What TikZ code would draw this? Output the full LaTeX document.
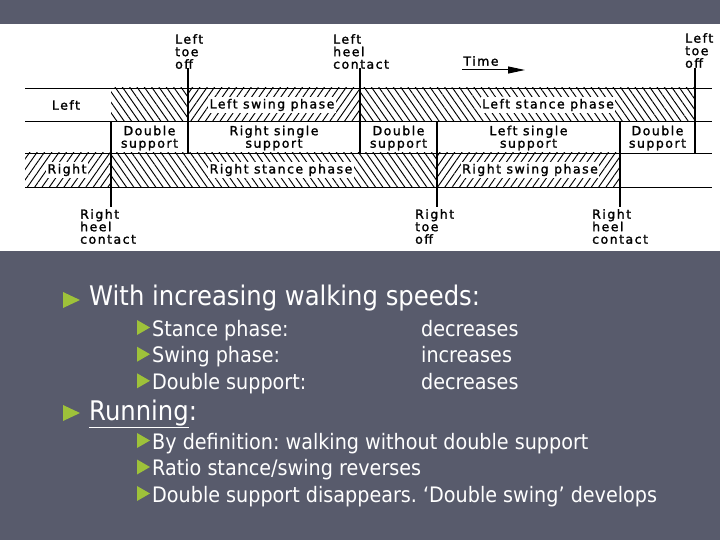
\documentclass[tikz,border=0pt]{standalone}
\usepackage{fontspec}
\setmainfont{DejaVu Sans}
\newfontfamily\chartfont[LetterSpace=12,FakeBold=1.5]{DejaVu Sans}
\newfontfamily\slidefont[FakeStretch=0.9]{DejaVu Sans}
\frenchspacing
\usetikzlibrary{arrows.meta}
\usetikzlibrary{patterns.meta}
\definecolor{slate}{RGB}{88,91,108}
\definecolor{bulgreen}{RGB}{158,194,58}
\tikzset{hatchdown/.style={pattern={Lines[angle=-55,distance=6pt,line width=.95pt]}}}
\tikzset{hatchup/.style={pattern={Lines[angle=55,distance=6pt,line width=.95pt]}}}
\tikzset{phase/.style={font=\chartfont\fontsize{12.5}{12.5}\selectfont, fill=white, inner sep=1.5pt}}
\tikzset{support/.style={font=\chartfont\fontsize{12.5}{12.5}\selectfont, align=center, inner sep=0pt}}
\tikzset{event/.style={font=\chartfont\fontsize{12.5}{12.5}\selectfont, align=left, inner sep=0pt, anchor=north west}}
\tikzset{head/.style={font=\slidefont\fontsize{27}{33}\selectfont, text=white, anchor=base west, inner sep=0pt}}
\tikzset{item/.style={font=\slidefont\fontsize{21.3}{25}\selectfont, text=white, anchor=base west, inner sep=0pt}}

\begin{document}
\begin{tikzpicture}[x=1pt,y=-1pt]
% slide and chart panel
\fill[slate] (0,0) rectangle (720,540);
\fill[white] (0,24) rectangle (720,251);
% hatched bands
\path[hatchdown] (111,88) rectangle (188,121);
\path[hatchup] (188,88) rectangle (360,121);
\path[hatchdown] (360,88) rectangle (695,121);
\path[hatchup] (25,153) rectangle (111,187);
\path[hatchdown] (111,153) rectangle (437,187);
\path[hatchup] (437,153) rectangle (620,187);
\foreach \y in {88,121,153,187} {
  \draw[line width=.9pt] (25,\y)--(712,\y);
}
% event lines
\foreach \x/\ya/\yb in {111/121/207, 188/68/153, 360/68/153, 437/121/207, 620/121/207, 695/68/153} {
  \draw[line width=1.3pt] (\x,\ya)--(\x,\yb);
}
\node[event] (lto1) at (175,34) {Left\\toe\\off};
\node[event] (lhc) at (333,34) {Left\\heel\\contact};
\node[event] (lto2) at (685,33) {Left\\toe\\off};
\node[event] (rhc1) at (80,209) {Right\\heel\\contact};
\node[event] (rto) at (415,209) {Right\\toe\\off};
\node[event] (rhc2) at (592,209) {Right\\heel\\contact};
\node[phase, fill=none] (time) at (481,61) {Time};
\coordinate (t0) at (462,70);
\coordinate (t1) at (525,70);
\draw[line width=1pt, -{Triangle[length=17pt,width=7pt]}] (t0)--(t1);
% phases
\node[phase] (lft) at (66,105) {Left};
\node[phase] (lsw) at (272,105) {Left swing phase};
\node[phase] (lst) at (548,105) {Left stance phase};
\node[support] (ds1) at (149.5,138) {Double\\support};
\node[support] (rss) at (274,138) {Right single\\support};
\node[support] (ds2) at (398.5,138) {Double\\support};
\node[support] (lss) at (528.5,138) {Left single\\support};
\node[support] (ds3) at (657.5,138) {Double\\support};
\node[phase] (rgt) at (67,170) {Right};
\node[phase] (rst) at (281,170) {Right stance phase};
\node[phase] (rsw) at (530,170) {Right swing phase};
% bullets
\fill[bulgreen] (63,292)--(80,300)--(63,308)--cycle;
\node[head] (speed) at (89,305.5) {With increasing walking speeds:};
\foreach \y/\t/\v [count=\i] in {336/Stance phase:/decreases, 362.7/Swing phase:/increases, 389.3/Double support:/decreases} {
  \fill[bulgreen] (137,\y-16)--(150,\y-8.5)--(137,\y-1)--cycle;
  \node[item] (it\i) at (152,\y) {\t};
  \node[item] (val\i) at (421,\y) {\v};
}
\fill[bulgreen] (63,405)--(80,413)--(63,421)--cycle;
\node[head] (run) at (89,420) {\underline{Running}:};
\foreach \y in {449,475.5,502} {
  \fill[bulgreen] (137,\y-16)--(150,\y-8.5)--(137,\y-1)--cycle;
}
\node[item] (by) at (152,449) {By definition: walking without double support};
\node[item] (ratio) at (152,475.5) {Ratio stance/swing reverses};
\node[item] (gone) at (152,502) {Double support disappears. ‘Double swing’ develops};
\end{tikzpicture}
\end{document}
